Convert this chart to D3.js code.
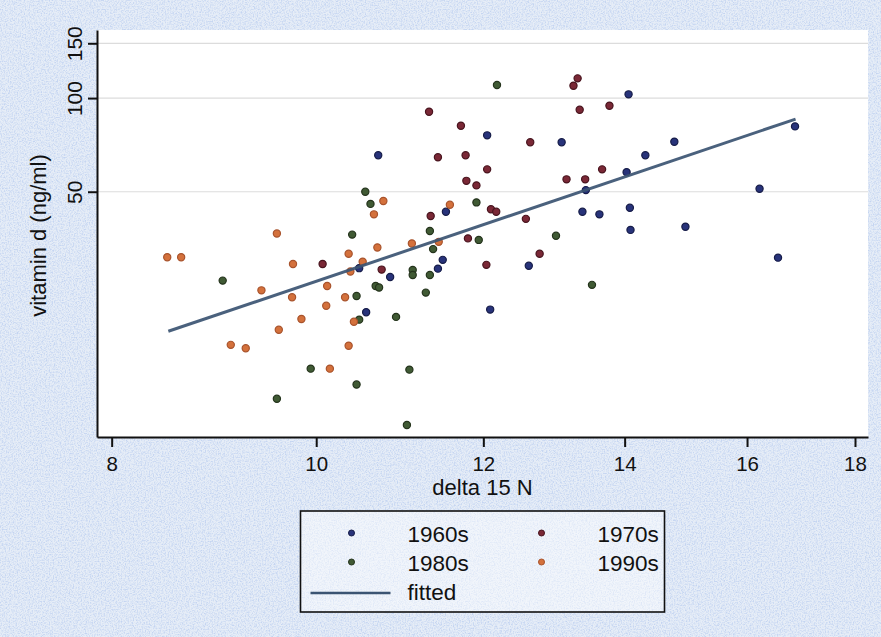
<!DOCTYPE html>
<html>
<head>
<meta charset="utf-8">
<script src="https://cdn.jsdelivr.net/npm/d3@7"></script>
<style>
  body { margin: 0; background: #fff; }
  svg text { font-family: "Liberation Sans", Arial, sans-serif; fill: #111; }
</style>
</head>
<body>
<div id="chart-container"></div>
<script>
// scatter of vitamin d vs delta 15 N, log-log axes, by decade + fitted line
const svgWidth = 881;
const svgHeight = 637;
const margin = { top: 30, right: 13, bottom: 200, left: 97 };
const width = svgWidth - margin.left - margin.right;
const height = svgHeight - margin.top - margin.bottom;

// data: [delta 15 N, vitamin d]
const decades = ["1960s", "1970s", "1980s", "1990s"];
const pts1960s = [
  [10.70, 65.5], [12.05, 75.9], [13.07, 72.1], [14.06, 102.8], [14.78, 72.4],
  [14.32, 65.5], [14.03, 57.8], [13.42, 50.6], [16.86, 81.1], [16.22, 51.1],
  [13.37, 43.1], [13.62, 42.3], [14.08, 44.4], [14.09, 37.7], [14.96, 38.6],
  [16.55, 30.7], [11.52, 43.1], [11.48, 30.2], [11.42, 28.3], [12.61, 28.9],
  [12.09, 20.9], [10.48, 28.4], [10.84, 26.6], [10.56, 20.5]
];
const pts1970s = [
  [13.30, 115.7], [13.24, 109.6], [13.33, 91.7], [13.77, 94.5], [11.31, 90.4],
  [11.71, 81.5], [12.63, 72.1], [11.42, 64.5], [11.77, 65.5], [12.05, 59.0],
  [13.66, 59.0], [11.78, 54.2], [11.91, 52.4], [13.14, 54.8], [13.41, 54.8],
  [12.10, 43.9], [12.17, 43.1], [11.33, 41.8], [12.57, 40.9], [11.80, 35.4],
  [12.76, 31.6], [12.04, 29.1], [10.07, 29.3], [10.74, 28.1]
];
const pts1980s = [
  [12.18, 110.1], [10.55, 50.0], [10.61, 45.7], [11.91, 46.2], [10.40, 36.4],
  [11.32, 37.4], [11.36, 32.7], [11.94, 35.0], [12.99, 36.1], [11.11, 28.0],
  [11.11, 27.0], [11.32, 27.0], [9.03, 25.9], [10.67, 24.9], [10.71, 24.6],
  [10.45, 23.1], [11.27, 23.7], [13.51, 25.1], [10.91, 19.8], [10.48, 19.4],
  [9.94, 13.5], [10.45, 12.0], [11.07, 13.4], [9.58, 10.8], [11.04, 8.9]
];
const pts1990s = [
  [10.76, 46.7], [10.65, 42.3], [11.57, 45.4], [9.58, 36.7], [10.69, 33.1],
  [11.10, 34.1], [11.43, 34.5], [8.50, 30.8], [8.63, 30.8], [10.36, 31.6],
  [9.75, 29.3], [10.52, 29.8], [10.38, 27.7], [9.42, 24.1], [10.12, 24.9],
  [9.74, 22.9], [10.32, 22.9], [10.11, 21.5], [9.84, 19.5], [10.42, 19.1],
  [9.60, 18.0], [9.11, 16.1], [9.26, 15.7], [10.36, 16.0], [10.15, 13.5]
];
const series = [pts1960s, pts1970s, pts1980s, pts1990s];

// fitted line end points
const fitX = [8.51, 16.87];
const fitY = [17.8, 85.6];

const xTicks = [8, 10, 12, 14, 16, 18];
const yTicks = [50, 100, 150];

const fills = ["#28337a", "#7a2836", "#405a34", "#d4713c"];
const strokes = ["#161c48", "#48141e", "#24331c", "#a8532c"];

const svgRoot = d3.select("#chart-container")
    .append("svg")
    .attr("width", svgWidth)
    .attr("height", svgHeight);

// bluish paper texture behind everything
const defs = svgRoot.append("defs");
const paper = defs.append("filter").attr("id", "paper")
    .attr("x", 0).attr("y", 0).attr("width", "100%").attr("height", "100%");
paper.append("feTurbulence")
    .attr("type", "fractalNoise")
    .attr("baseFrequency", 0.75)
    .attr("numOctaves", 3)
    .attr("seed", 4);
paper.append("feColorMatrix")
    .attr("type", "matrix")
    .attr("values", "0 0 0 0 0.55  0 0 0 0 0.66  0 0 0 0 0.88  2.6 0 0 0 -1.05");

svgRoot.append("rect").attr("width", svgWidth).attr("height", svgHeight).attr("fill", "#e6edf7");
svgRoot.append("rect").attr("width", svgWidth).attr("height", svgHeight)
    .attr("filter", "url(#paper)");

const svg = svgRoot.append("g")
    .attr("transform", `translate(${margin.left},${margin.top})`);

// plot region is white
svg.append("rect")
    .attr("width", width)
    .attr("height", height)
    .attr("fill", "#fff");

const x = d3.scaleLog()
    .domain([7.873, 18.257])
    .range([0, width]);

const y = d3.scaleLog()
    .domain([8.14, 165.5])
    .range([height, 0]);

// faint grid
svg.selectAll(".grid")
    .data(yTicks)
    .enter()
    .append("line")
    .attr("class", "grid")
    .attr("x1", 0)
    .attr("x2", width)
    .attr("y1", d => y(d))
    .attr("y2", d => y(d))
    .attr("stroke", "#dcdcdc")
    .attr("stroke-width", 1.2);

// axes
const xAxis = svg.append("g")
    .attr("class", "axis axis-x")
    .attr("transform", `translate(0, ${height})`)
    .call(d3.axisBottom(x).tickValues(xTicks).tickFormat(d3.format("d")).tickSize(10).tickSizeOuter(0));

const yAxis = svg.append("g")
    .attr("class", "axis axis-y")
    .call(d3.axisLeft(y).tickValues(yTicks).tickFormat(d3.format("d")).tickSize(9).tickSizeOuter(0));

svg.selectAll(".axis path, .axis line")
    .attr("stroke", "#111")
    .attr("stroke-width", 2);

xAxis.selectAll("text")
    .attr("font-size", 20.5)
    .attr("dy", "1.04em");

// y tick labels stand on their side, Stata style
yAxis.selectAll("text")
    .attr("font-size", 21)
    .attr("text-anchor", "middle")
    .attr("x", 0)
    .attr("dy", 0)
    .attr("transform", "translate(-15,0) rotate(-90)");

// points
series.forEach((pts, i) => {
    svg.append("g")
        .selectAll("circle")
        .data(pts)
        .enter()
        .append("circle")
        .attr("cx", d => x(d[0]))
        .attr("cy", d => y(d[1]))
        .attr("r", 3.6)
        .attr("fill", fills[i])
        .attr("stroke", strokes[i])
        .attr("stroke-width", 1.2);
});

// fitted line
svg.append("path")
    .datum(d3.zip(fitX, fitY))
    .attr("d", d3.line().x(d => x(d[0])).y(d => y(d[1])))
    .attr("fill", "none")
    .attr("stroke", "#3b5472")
    .attr("stroke-width", 3)
    .attr("stroke-opacity", 0.92);

// axis titles
svg.append("text")
    .text("delta 15 N")
    .attr("x", width / 2)
    .attr("y", height + 58)
    .attr("text-anchor", "middle")
    .attr("font-size", 22);

svg.append("text")
    .text("vitamin d (ng/ml)")
    .attr("text-anchor", "middle")
    .attr("font-size", 22)
    .attr("transform", `translate(-51, ${height / 2 + 2}) rotate(-90)`);

// legend
const legend = svg.append("g")
    .attr("transform", `translate(${width / 2 - 182}, ${height + 74})`);

legend.append("rect")
    .attr("width", 364)
    .attr("height", 101)
    .attr("fill", "rgba(255,255,255,0.45)")
    .attr("stroke", "#111")
    .attr("stroke-width", 1.6);

decades.forEach((name, i) => {
    const col = i % 2, row = Math.floor(i / 2);
    const g = legend.append("g")
        .attr("transform", `translate(${col * 190}, ${row * 29})`);
    g.append("circle")
        .attr("cx", 51)
        .attr("cy", 22)
        .attr("r", 3)
        .attr("fill", fills[i])
        .attr("stroke", strokes[i]);
    g.append("text")
        .text(name)
        .attr("x", 107)
        .attr("y", 30.5)
        .attr("font-size", 22.5);
});

legend.append("line")
    .attr("x1", 10)
    .attr("x2", 90)
    .attr("y1", 82)
    .attr("y2", 82)
    .attr("stroke", "#3b5472")
    .attr("stroke-width", 2.5);

legend.append("text")
    .text("fitted")
    .attr("x", 107)
    .attr("y", 89)
    .attr("font-size", 22.5);
</script>
</body>
</html>
